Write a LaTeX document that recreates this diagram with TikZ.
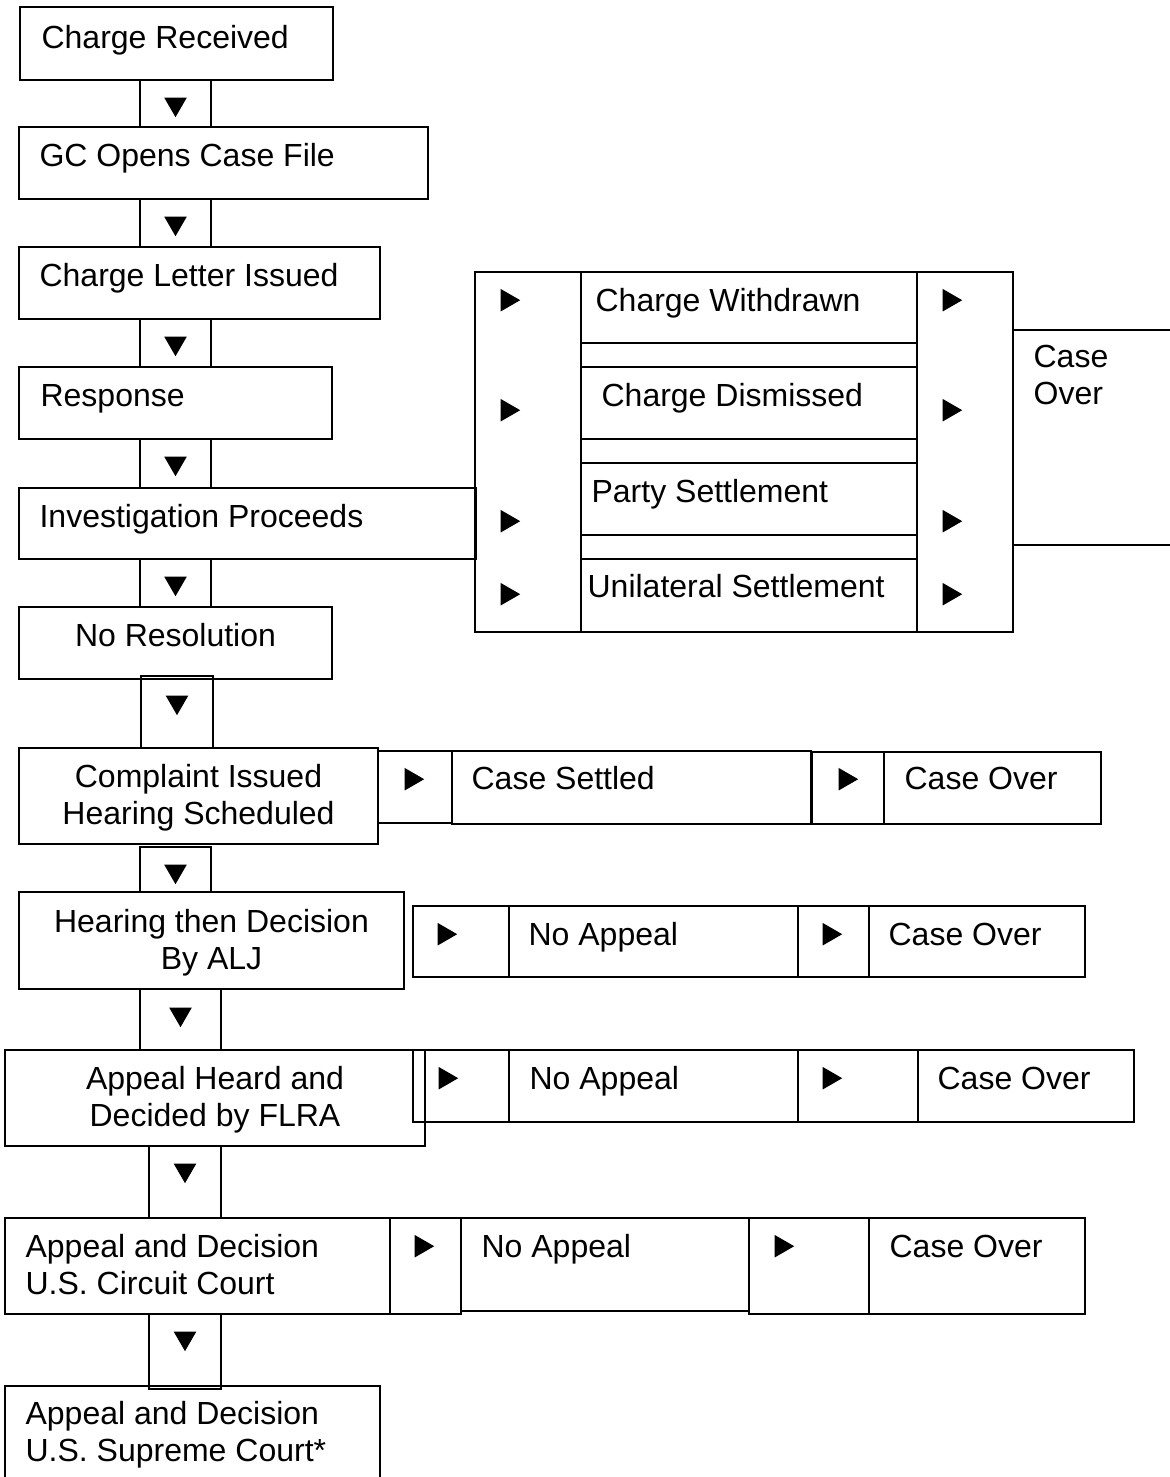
\documentclass[tikz,border=0pt]{standalone}
\usepackage{fontspec}
\setmainfont{Liberation Sans}
\usetikzlibrary{shapes.geometric, positioning, calc, fit}

\begin{document}
\begin{tikzpicture}[
    x=0.5pt, y=-0.5pt,
    cell/.style={
        draw,
        line width=0.8pt,
        inner sep=0pt,
        fit={#1}
    },
    txt/.style={
        inner sep=0pt,
        anchor=base west,
        font=\fontsize{16}{18.5}\selectfont
    },
    ctxt/.style={
        txt,
        anchor=base,
        align=center
    },
    ltxt/.style={
        txt,
        align=left
    },
    dntri/.style={
        regular polygon,
        regular polygon sides=3,
        shape border rotate=180,
        fill=black,
        inner sep=0pt,
        minimum size=13pt
    },
    rttri/.style={
        dntri,
        shape border rotate=-90
    }
]

\useasboundingbox (0,0) rectangle (1170,1477);
\clip (0,0) rectangle (1170,1477);

% Hauptspalte
\node (recv) [cell={(20,7)(333,80)}] {};
\node (recv-t) [txt] at ($(recv.north west)+(22,42)$) {Charge Received};
\node (a1) [cell={(140,80)(211,127)}] {};
\node (a1-m) [dntri] at ($(a1.north)+(0,25)$) {};

\node (gcopen) [cell={(19,127)(428,199)}] {};
\node (gcopen-t) [txt] at ($(gcopen.north west)+(21,40)$) {GC Opens Case File};
\node (a2) [cell={(140,199)(211,247)}] {};
\node (a2-m) [dntri] at ($(a2.north)+(0,25)$) {};

\node (letter) [cell={(19,247)(380,319)}] {};
\node (letter-t) [txt] at ($(letter.north west)+(21,40)$) {Charge Letter Issued};
\node (a3) [cell={(140,319)(211,367)}] {};
\node (a3-m) [dntri] at ($(a3.north)+(0,25)$) {};

\node (resp) [cell={(19,367)(332,439)}] {};
\node (resp-t) [txt] at ($(resp.north west)+(22,40)$) {Response};
\node (a4) [cell={(140,439)(211,488)}] {};
\node (a4-m) [dntri] at ($(a4.north)+(0,25)$) {};

\node (invest) [cell={(19,488)(476,559)}] {};
\node (invest-t) [txt] at ($(invest.north west)+(21,40)$) {Investigation Proceeds};
\node (a5) [cell={(140,559)(211,607)}] {};
\node (a5-m) [dntri] at ($(a5.north)+(0,25)$) {};

\node (nores) [cell={(19,607)(332,679)}] {};
\node (nores-t) [ctxt] at ($(nores.north)+(0,40)$) {No Resolution};
\node (a6) [cell={(141,676)(213,748)}] {};
\node (a6-m) [dntri] at ($(a6.north)+(0,27)$) {};

\node (compl) [cell={(19,748)(378,844)}] {};
\node (compl-t) [ctxt] at ($(compl.north)+(0,77)$) {Complaint Issued\\Hearing Scheduled};
\node (a7) [cell={(140,847)(211,892)}] {};
\node (a7-m) [dntri] at ($(a7.north)+(0,25)$) {};

\node (hear) [cell={(19,892)(404,989)}] {};
\node (hear-t) [ctxt] at ($(hear.north)+(0,78)$) {Hearing then Decision\\By ALJ};
\node (a8) [cell={(140,989)(221,1050)}] {};
\node (a8-m) [dntri] at ($(a8.north)+(0,26)$) {};

\node (flra) [cell={(5,1050)(425,1146)}] {};
\node (flra-t) [ctxt] at ($(flra.north)+(0,77)$) {Appeal Heard and\\Decided by FLRA};
\node (a9) [cell={(149,1146)(221,1218)}] {};
\node (a9-m) [dntri] at ($(a9.north)+(0,25)$) {};

\node (circ) [cell={(5,1218)(390,1314)}] {};
\node (circ-t) [ltxt] at ($(circ.north west)+(21,77)$) {Appeal and Decision\\U.S. Circuit Court};
\node (a10) [cell={(149,1314)(221,1389)}] {};
\node (a10-m) [dntri] at ($(a10.north)+(0,25)$) {};

\node (supr) [cell={(5,1386)(380,1500)}] {};
\node (supr-t) [ltxt] at ($(supr.north west)+(21,76)$) {Appeal and Decision\\U.S. Supreme Court*};

% Abschluss nach der Untersuchung
\node (lcol) [cell={(475,272)(581,632)}] {};
\node (lcol-m1) [rttri] at ($(lcol.north west)+(33,29)$) {};
\node (lcol-m2) [rttri] at ($(lcol.north west)+(33,139)$) {};
\node (lcol-m3) [rttri] at ($(lcol.north west)+(33,250)$) {};
\node (lcol-m4) [rttri] at ($(lcol.north west)+(33,323)$) {};

\node (wdrawn) [cell={(581,272)(917,343)}] {};
\node (wdrawn-t) [txt] at ($(wdrawn.north west)+(15,40)$) {Charge Withdrawn};
\node (gap1) [cell={(581,343)(917,367)}] {};
\node (dism) [cell={(581,367)(917,439)}] {};
\node (dism-t) [txt] at ($(dism.north west)+(21,40)$) {Charge Dismissed};
\node (gap2) [cell={(581,439)(917,463)}] {};
\node (party) [cell={(581,463)(917,535)}] {};
\node (party-t) [txt] at ($(party.north west)+(11,40)$) {Party Settlement};
\node (gap3) [cell={(581,535)(917,559)}] {};
\node (unil) [cell={(581,559)(917,632)}] {};
\node (unil-t) [txt] at ($(unil.north west)+(7,39)$) {Unilateral Settlement};

\node (rcol) [cell={(917,272)(1013,632)}] {};
\node (rcol-m1) [rttri] at ($(rcol.north west)+(33,29)$) {};
\node (rcol-m2) [rttri] at ($(rcol.north west)+(33,139)$) {};
\node (rcol-m3) [rttri] at ($(rcol.north west)+(33,250)$) {};
\node (rcol-m4) [rttri] at ($(rcol.north west)+(33,323)$) {};

\node (over1) [cell={(1013,330)(1190,545)}] {};
\node (over1-t) [ltxt] at ($(over1.north west)+(21,75)$) {Case\\Over};

% Vergleich
\node (ca) [cell={(378,751)(452,823)}] {};
\node (ca-m) [rttri] at ($(ca.north west)+(34,29)$) {};
\node (settled) [cell={(452,751)(811,824)}] {};
\node (settled-t) [txt] at ($(settled.north west)+(20,39)$) {Case Settled};
\node (cb) [cell={(812,752)(884,824)}] {};
\node (cb-m) [rttri] at ($(cb.north west)+(34,28)$) {};
\node (over2) [cell={(884,752)(1101,824)}] {};
\node (over2-t) [txt] at ($(over2.north west)+(21,38)$) {Case Over};

% Entscheidung ALJ
\node (ha) [cell={(413,906)(509,977)}] {};
\node (ha-m) [rttri] at ($(ha.north west)+(32,29)$) {};
\node (noap1) [cell={(509,906)(798,977)}] {};
\node (noap1-t) [txt] at ($(noap1.north west)+(20,40)$) {No Appeal};
\node (hb) [cell={(798,906)(869,977)}] {};
\node (hb-m) [rttri] at ($(hb.north west)+(32,29)$) {};
\node (over3) [cell={(869,906)(1085,977)}] {};
\node (over3-t) [txt] at ($(over3.north west)+(20,40)$) {Case Over};

% Entscheidung FLRA
\node (fa) [cell={(413,1050)(509,1122)}] {};
\node (fa-m) [rttri] at ($(fa.north west)+(33,29)$) {};
\node (noap2) [cell={(509,1050)(798,1122)}] {};
\node (noap2-t) [txt] at ($(noap2.north west)+(21,40)$) {No Appeal};
\node (fb) [cell={(798,1050)(918,1122)}] {};
\node (fb-m) [rttri] at ($(fb.north west)+(32,29)$) {};
\node (over4) [cell={(918,1050)(1134,1122)}] {};
\node (over4-t) [txt] at ($(over4.north west)+(20,40)$) {Case Over};

% Circuit Court
\node (cca) [cell={(390,1218)(461,1314)}] {};
\node (cca-m) [rttri] at ($(cca.north west)+(32,29)$) {};
\node (noap3) [cell={(461,1218)(749,1311)}] {};
\node (noap3-t) [txt] at ($(noap3.north west)+(21,40)$) {No Appeal};
\node (ccb) [cell={(749,1218)(869,1314)}] {};
\node (ccb-m) [rttri] at ($(ccb.north west)+(33,29)$) {};
\node (over5) [cell={(869,1218)(1085,1314)}] {};
\node (over5-t) [txt] at ($(over5.north west)+(21,40)$) {Case Over};

\end{tikzpicture}
\end{document}
